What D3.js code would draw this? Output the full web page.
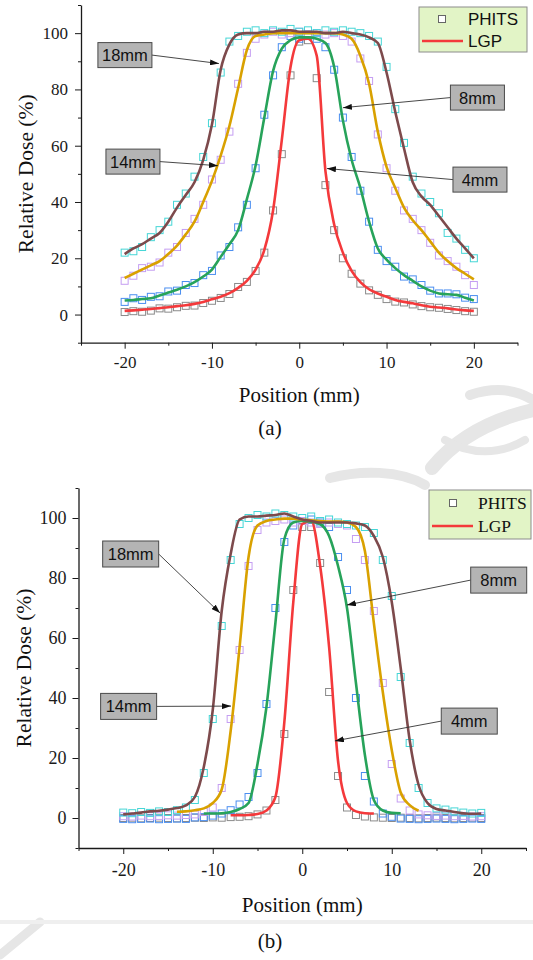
<!DOCTYPE html>
<html>
<head>
<meta charset="utf-8">
<title>Relative dose profiles</title>
<script src="https://cdn.jsdelivr.net/npm/d3@7"></script>
<style>
  body { margin: 0; background: #ffffff; }
  svg { display: block; }
  .tick text { font-family: 'Liberation Serif', 'Times New Roman', serif; fill: #1a1a1a; }
  .domain, .tick line { stroke: #1a1a1a; }
</style>
</head>
<body>
<svg id="chart" width="533" height="960"></svg>
<script>
// x positions (mm), shared by every series
var positionMm = [-20,-19,-18,-17,-16,-15,-14,-13,-12,-11,-10,-9,-8,-7,-6,-5,-4,-3,-2,-1,0,
                  1,2,3,4,5,6,7,8,9,10,11,12,13,14,15,16,17,18,19,20];

var yMajor = [0, 20, 40, 60, 80, 100];
var yMinor = [-10, 10, 30, 50, 70, 90, 110];
var xMajor = [-20, -10, 0, 10, 20];
var xMinor = [-25, -15, -5, 5, 15, 25];

// ---- panel (a) ----
var lgp4a    = [1.3,1.5,1.7,2.0,2.3,2.6,3.0,3.3,3.8,4.5,5.4,6.3,7.6,9.5,12,16,23,37,62,88,97.5,98,92,51,32,22,15.5,11.5,9,7.5,6.3,5.2,4.5,4,3.3,2.8,2.5,2.2,1.8,1.5,1.3];
var phits4a  = [0.9,1.2,1.0,1.4,2.2,2.1,2.6,3.1,3.2,4.1,4.9,5.9,7.3,9.8,11.6,15.5,22,37,57,85,97,97.5,84,46,30,20,14.5,11,8.6,7.0,5.5,4.6,4.3,3.6,3.0,2.6,2.4,2.0,1.6,1.2,1.0];
var lgp8a    = [5,5.2,5.5,5.8,6.8,7.8,8.8,10,11.5,13.5,16,20.5,25,30,41,53,70,86.5,94.5,97.5,98.5,98.5,98,96.5,88,69,55,45,33,23.5,19.5,16.5,14,12,10,8.5,7.5,7.2,7,6,5];
var phits8a  = [4.5,5.8,5.2,6.3,6.5,8.2,8.5,10.5,11.2,14,15.5,21,24,31,39,52,71,85,95,99,98,99.5,98,95,87,70,56,44,33,23,19,17,13.5,12.5,10.5,8.5,7.5,7.5,7.2,6,5.5];
var lgp14a   = [13,14.5,16,17.5,19,21.5,24.5,28.5,33,40,47.5,56.5,67,80.5,94,99,99.5,100,100,100,100,100,100,100,100,99.5,98,92,82,65,52.5,45,38,33.5,30,26,22,19,16.5,14.5,12.5];
var phits14a = [12,13.8,16.5,17,18.5,22,24,29,34,39,48,55,65,82,93,98,99.5,100.5,99.5,100,100.5,99.5,100,99.5,100,99,97,91,83,64,52,44,37,34,30,25.5,21,19,17,14,10.5];
var lgp18a   = [21.5,23.5,25,27,29,33,38,42.5,47,55,67.5,87,96,99.5,100,100,100.5,100.5,101,101,100.5,100.5,100.5,100,100,100.5,100,99.5,98.5,96.5,86,72,59,47,42,39,35,31,27,23.5,20];
var phits18a = [22,22.5,24,27.5,30,33,39,43,49,56,68,86,97,99,100.5,101,100,101,100.5,101.5,100.5,101,100,101,100.5,101,100.5,100,99,97,88,73,61,49,43,40,36,29,27,23,20];

// ---- panel (b) ----
var lgp4b    = [null,null,null,null,null,null,null,null,null,null,null,null,0.9,0.9,1,1.3,2.5,7,32,72,98,99,84,57,19,5,2.2,1.6,1.5,null,null,null,null,null,null,null,null,null,null,null,null];
var phits4b  = [0,0.1,-0.1,0,0.1,0,-0.1,0,0.1,0,0.2,0.1,0.3,0.4,0.6,1.2,2.5,6,28,76,97,97,85,42,14,3.5,1,0.5,0.2,0.1,0,0.1,0,-0.1,0,0.1,0,-0.1,0,0.1,0];
var lgp8b    = [null,null,null,null,null,null,null,null,null,1.5,1.5,1.6,2,3,5,18,37,65,93,98.5,99,98.8,98,94,84,70,45,21,6,2.5,1.7,1.6,null,null,null,null,null,null,null,null,null];
var phits8b  = [-0.3,-0.4,-0.3,-0.2,-0.4,-0.3,-0.2,-0.3,0.2,0.3,0.8,1.5,2.6,4.5,7,15,38,70,92,97.5,99,99.5,98.5,97,87,76,40,14,5.5,1.5,0.4,-0.2,-0.3,-0.4,-0.3,-0.2,-0.3,-0.4,-0.3,-0.2,-0.3];
var lgp14b   = [null,null,null,null,null,null,2.1,2.2,2.6,3.2,5,9.5,29,57,87,97.5,99,99.5,99.8,99.8,99.5,99.2,99,98.8,98.8,98.5,97,89,65,42,22.7,8.5,4.3,2.4,null,null,null,null,null,null,null];
var phits14b = [0.6,0.5,0.8,0.6,0.7,0.9,0.8,1.0,1.2,2.0,3.5,10,33,56,84,96,98.5,99,99.5,98.5,99,98.5,98,98.5,98,97.5,93,86,69,45,18,6.5,2.5,1.2,0.9,0.7,0.8,0.6,0.7,0.5,0.6];
var lgp18b   = [1.2,1.5,1.8,2.2,2.4,2.8,3.3,4.2,7,17,36,69,88,99.5,100.5,100.5,100.8,101,101.5,100.5,99.5,99,98.5,98.5,98.5,98.5,98.2,97.5,94,87,72,50,26,11,5,3,2.5,2,1.6,1.4,1.5];
var phits18b = [1.8,1.6,2.0,1.7,2.2,2.0,2.6,3.5,6,15,33,64,86,98,100,101,100.5,101.5,101,100.5,100,100.5,99,99.5,98.5,98,97.5,97,95,86,74,47,25,10,5,3.2,2.8,2.2,1.8,1.5,1.7];

// annotation boxes: box centre and arrow tip, in data units
var notesA = [
  {label: '18mm', bx: -19.97, by: 92.2,  tx: -9.2,  ty: 89.2},
  {label: '14mm', bx: -19.05, by: 54.35, tx: -9.31, ty: 52.9},
  {label: '8mm',  bx: 20.41,  by: 77.1,  tx: 5.0,   ty: 73.5},
  {label: '4mm',  bx: 20.7,   by: 47.96, tx: 3.17,  ty: 51.9}
];
var notesB = [
  {label: '18mm', bx: -19.17, by: 88,   tx: -9.18, ty: 68.3},
  {label: '14mm', bx: -19.4,  by: 37.2, tx: -7.96, ty: 37.3},
  {label: '8mm',  bx: 21.95,  by: 79.3, tx: 4.99,  ty: 71},
  {label: '4mm',  bx: 18.66,  by: 32.3, tx: 3.65,  ty: 25.7}
];

var lineColors = {'4mm': '#f4393b', '8mm': '#27a35a', '14mm': '#d9a100', '18mm': '#7d4a4c'};
var markColors = {'4mm': '#8a8a8a', '8mm': '#4a8ef0', '14mm': '#c59ef2', '18mm': '#45d6d6'};

var svg = d3.select('#chart');

// arrowhead
svg.append('defs').append('marker')
  .attr('id', 'arrow')
  .attr('markerUnits', 'userSpaceOnUse')
  .attr('markerWidth', 9).attr('markerHeight', 6)
  .attr('refX', 9).attr('refY', 3)
  .attr('orient', 'auto')
  .append('path').attr('d', 'M0,0 L9,3 L0,6 Z').attr('fill', '#111');

// faint watermark strokes and page break strip
var wm = svg.append('g').attr('fill', 'none').attr('stroke', '#e6e6e6').attr('stroke-linecap', 'round');
wm.append('path').attr('d', 'M432,468 C455,440 490,420 533,410').attr('stroke-width', 14);
wm.append('path').attr('d', 'M470,395 C500,385 520,392 533,400').attr('stroke-width', 10);
wm.append('path').attr('d', 'M445,440 C470,455 500,455 525,440').attr('stroke-width', 8);
wm.append('path').attr('d', 'M330,478 C360,470 400,470 425,485').attr('stroke-width', 10);
wm.append('path').attr('d', 'M0,955 L40,922').attr('stroke-width', 9);
svg.append('rect').attr('x', 0).attr('y', 920).attr('width', 533).attr('height', 4).attr('fill', '#efefef');

function drawPanel(p) {
  var x = d3.scaleLinear().domain([-25, 25]).range([p.left, p.right]);
  var y = d3.scaleLinear().domain([-10, 110]).range([p.bottom, p.top]);
  var g = svg.append('g');

  // y axis
  g.append('g')
    .attr('transform', 'translate(' + p.left + ',0)')
    .call(d3.axisLeft(y).tickValues(yMajor).tickSize(6).tickSizeOuter(0).tickPadding(p.yPad)
      .tickFormat(function (d) { return String(d); }))
    .call(function (a) {
      a.selectAll('text').style('font-size', p.tickFont + 'px');
      a.select('.domain').attr('stroke-width', 1.3);
    });
  g.append('g')
    .attr('transform', 'translate(' + p.left + ',0)')
    .call(d3.axisLeft(y).tickValues(yMinor).tickSize(3).tickFormat(''))
    .call(function (a) { a.select('.domain').remove(); });

  // x axis
  g.append('g')
    .attr('transform', 'translate(0,' + p.bottom + ')')
    .call(d3.axisBottom(x).tickValues(xMajor).tickSize(6).tickSizeOuter(0).tickPadding(p.xPad)
      .tickFormat(function (d) { return String(d); }))
    .call(function (a) {
      a.selectAll('text').style('font-size', p.tickFont + 'px');
      a.select('.domain').attr('stroke-width', 1.3);
    });
  g.append('g')
    .attr('transform', 'translate(0,' + p.bottom + ')')
    .call(d3.axisBottom(x).tickValues(xMinor).tickSize(3).tickFormat(''))
    .call(function (a) { a.select('.domain').remove(); });

  // axis titles
  g.append('text')
    .attr('x', x(0)).attr('y', p.xTitleY)
    .attr('text-anchor', 'middle')
    .style('font-family', "'Liberation Serif', serif").style('font-size', '21px').attr('fill', '#111')
    .text('Position (mm)');
  g.append('text')
    .attr('transform', 'translate(' + p.yTitleX + ',' + ((p.top + p.bottom) / 2) + ') rotate(-90)')
    .attr('text-anchor', 'middle')
    .style('font-family', "'Liberation Serif', serif").style('font-size', '21.5px').attr('fill', '#111')
    .text('Relative Dose (%)');
  g.append('text')
    .attr('x', 270).attr('y', p.captionY)
    .attr('text-anchor', 'middle')
    .style('font-family', "'Liberation Serif', serif").style('font-size', '21px').attr('fill', '#111')
    .text(p.caption);

  // PHITS squares
  p.series.forEach(function (s) {
    var pts = positionMm.map(function (px, i) { return {x: px, v: s.phits[i]}; });
    g.append('g').selectAll('rect').data(pts).enter().append('rect')
      .attr('x', function (d) { return x(d.x) - 3.5; })
      .attr('y', function (d) { return y(d.v) - 3.5; })
      .attr('width', 7).attr('height', 7)
      .attr('fill', 'none')
      .attr('stroke', markColors[s.name])
      .attr('stroke-width', 1);
  });

  // LGP lines
  var line = d3.line()
    .defined(function (d) { return d.v != null; })
    .x(function (d) { return x(d.x); })
    .y(function (d) { return y(d.v); })
    .curve(d3.curveMonotoneX);
  p.series.forEach(function (s) {
    var pts = positionMm.map(function (px, i) { return {x: px, v: s.lgp[i]}; });
    g.append('path').datum(pts)
      .attr('d', line)
      .attr('fill', 'none')
      .attr('stroke', lineColors[s.name])
      .attr('stroke-width', 2.6)
      .attr('stroke-linejoin', 'round');
  });

  // annotations
  p.notes.forEach(function (n) {
    var cx = x(n.bx), cy = y(n.by);
    var tx = x(n.tx), ty = y(n.ty);
    var sx = tx > cx ? cx + p.boxW / 2 : cx - p.boxW / 2;
    g.append('line')
      .attr('x1', sx).attr('y1', cy).attr('x2', tx).attr('y2', ty)
      .attr('stroke', '#333').attr('stroke-width', 0.9)
      .attr('marker-end', 'url(#arrow)');
    g.append('rect')
      .attr('x', cx - p.boxW / 2).attr('y', cy - p.boxH / 2)
      .attr('width', p.boxW).attr('height', p.boxH)
      .attr('fill', '#b4b4b4').attr('stroke', '#4a4a4a').attr('stroke-width', 1);
    g.append('text')
      .attr('x', cx).attr('y', cy + 6)
      .attr('text-anchor', 'middle')
      .style('font-family', "'Liberation Sans', Arial, sans-serif").style('font-size', '16.5px').attr('fill', '#111')
      .text(n.label);
  });

  // legend
  var L = p.legend;
  var lg = g.append('g');
  lg.append('rect').attr('x', L.x).attr('y', L.y).attr('width', L.w).attr('height', L.h)
    .attr('fill', '#e2f4c6').attr('stroke', '#8c8c8c').attr('stroke-width', 1);
  lg.append('rect').attr('x', L.markX - 3.5).attr('y', L.row1 - 3.5).attr('width', 7).attr('height', 7)
    .attr('fill', '#fff').attr('stroke', '#666').attr('stroke-width', 1);
  lg.append('line').attr('x1', L.x + 3).attr('x2', L.textX - 5).attr('y1', L.row2).attr('y2', L.row2)
    .attr('stroke', lineColors['4mm']).attr('stroke-width', 2.6);
  lg.append('text').attr('x', L.textX).attr('y', L.row1 + 6)
    .style('font-family', L.font).style('font-size', L.size + 'px').attr('fill', '#111').text('PHITS');
  lg.append('text').attr('x', L.textX).attr('y', L.row2 + 6)
    .style('font-family', L.font).style('font-size', L.size + 'px').attr('fill', '#111').text('LGP');
}

drawPanel({
  left: 81, right: 517.5, top: 5, bottom: 342.7,
  tickFont: 17, yPad: 7, xPad: 7,
  xTitleY: 402, yTitleX: 33, captionY: 435, caption: '(a)',
  boxW: 54, boxH: 25,
  notes: notesA,
  legend: {x: 419, y: 7, w: 108, h: 45, markX: 442, textX: 468, row1: 19, row2: 41,
           font: "'Liberation Sans', Arial, sans-serif", size: 17},
  series: [
    {name: '4mm',  lgp: lgp4a,  phits: phits4a},
    {name: '8mm',  lgp: lgp8a,  phits: phits8a},
    {name: '14mm', lgp: lgp14a, phits: phits14a},
    {name: '18mm', lgp: lgp18a, phits: phits18a}
  ]
});

drawPanel({
  left: 78.5, right: 526, top: 488, bottom: 848,
  tickFont: 18, yPad: 6, xPad: 9,
  xTitleY: 912, yTitleX: 31, captionY: 948, caption: '(b)',
  boxW: 56, boxH: 26,
  notes: notesB,
  legend: {x: 429, y: 490, w: 102, h: 49, markX: 453, textX: 478, row1: 503, row2: 526,
           font: "'Liberation Serif', serif", size: 17.5},
  series: [
    {name: '4mm',  lgp: lgp4b,  phits: phits4b},
    {name: '8mm',  lgp: lgp8b,  phits: phits8b},
    {name: '14mm', lgp: lgp14b, phits: phits14b},
    {name: '18mm', lgp: lgp18b, phits: phits18b}
  ]
});
</script>
</body>
</html>
